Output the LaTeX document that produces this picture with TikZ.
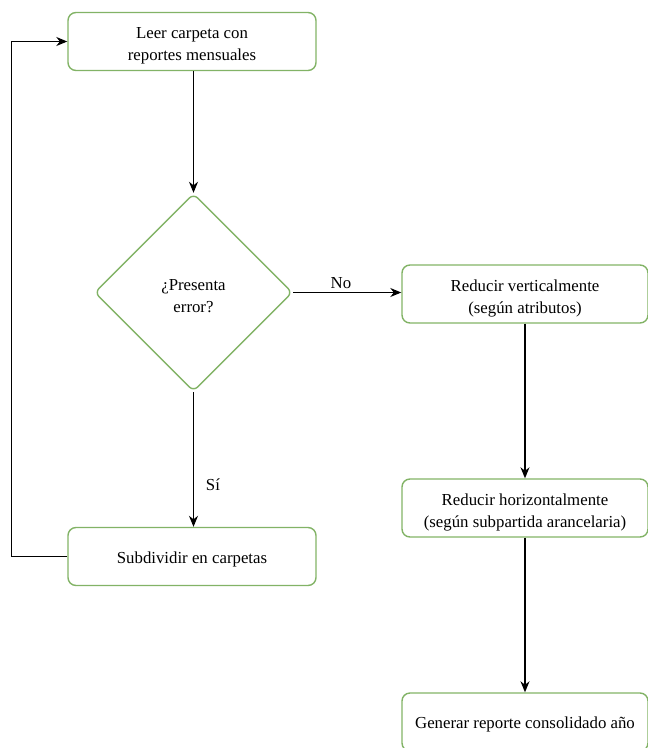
\documentclass[tikz,border=0pt]{standalone}
\usepackage{fontspec}
\setmainfont{Liberation Serif}
\usetikzlibrary{arrows.meta,shapes.geometric}
\definecolor{boxgreen}{HTML}{82B366}
\begin{document}
\begin{tikzpicture}[x=1pt,y=-1pt,
  txt/.style={font=\fontsize{16.8}{22}\selectfont, align=center, inner sep=0pt},
  proc/.style={draw=boxgreen, line width=1.4pt, rounded corners=8pt,
    minimum width=246pt, minimum height=58pt, inner sep=0pt},
  dec/.style={diamond, draw=boxgreen, line width=1.4pt, rounded corners=6pt,
    minimum width=198pt, minimum height=198pt, inner sep=0pt},
  arr/.style={draw=black, line width=1.2pt, -{Stealth[length=11pt,width=9pt,inset=3.5pt]}},
  two/.style={txt, yshift=-4pt},
  one/.style={txt, yshift=-2.5pt},
  lbl/.style={txt, inner sep=1pt}]
\useasboundingbox (0,0) rectangle (648,748);
\clip (0,0) rectangle (648,748);
\node[proc, minimum width=248pt] (leer) at (192,41.5) {};
\node[dec] (err) at (193.5,292.5) {};
\node[proc] (vert) at (525,294) {};
\node[proc] (hor) at (525,508) {};
\node[proc] (gen) at (525,722) {};
\node[proc, minimum width=248pt] (sub) at (192,556.5) {};
\node[two] (leert) at (leer.center) {Leer carpeta con\\reportes mensuales};
\node[two] (errt) at (err.center) {¿Presenta\\error?};
\node[two] (vertt) at (vert.center) {Reducir verticalmente\\(según atributos)};
\node[two] (hort) at (hor.center) {Reducir horizontalmente\\(según subpartida arancelaria)};
\node[one] (gent) at (gen.center) {Generar reporte consolidado año};
\node[one] (subt) at (sub.center) {Subdividir en carpetas};
\draw[arr] (leer.south -| err.north) -- (err.north);
\draw[arr] (err.east) -- (vert.west |- err.east);
\draw[arr] (err.south) -- (err.south |- sub.north);
\draw[arr] (vert.south) -- (hor.north);
\draw[arr] (hor.south) -- (gen.north);
\draw[arr] (sub.west) -- ++(-56,0) coordinate (c1) |- (leer.west);
\node[lbl] (no) at (341,283) {No};
\node[lbl] (si) at (213,485) {Sí};
\end{tikzpicture}
\end{document}
